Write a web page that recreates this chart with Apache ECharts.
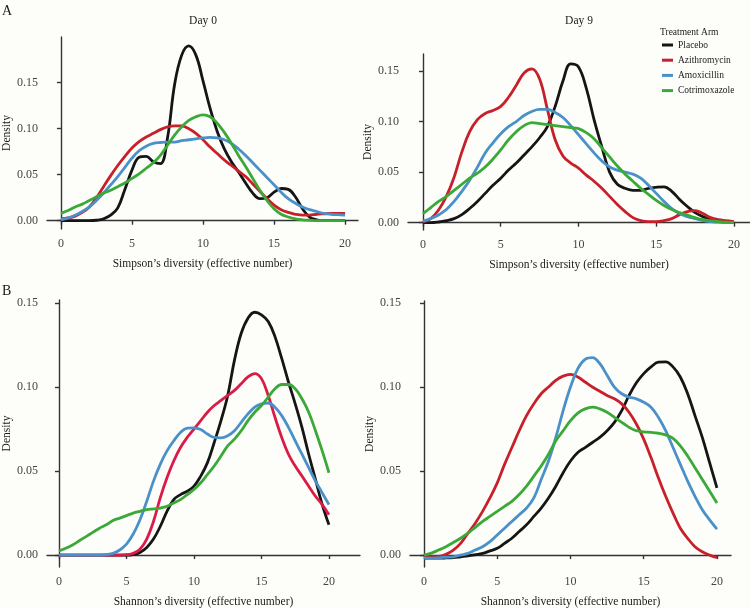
<!DOCTYPE html>
<html>
<head>
<meta charset="utf-8">
<script src="https://cdn.jsdelivr.net/npm/echarts@6/dist/echarts.min.js"></script>
<style>
html,body{margin:0;padding:0;background:#fdfdfa;}
#chart{width:750px;height:609px;}
</style>
</head>
<body>
<div id="chart"></div>
<script>
// ---- data ----
const seriesNames = ['Placebo', 'Azithromycin', 'Amoxicillin', 'Cotrimoxazole'];
const xTicks = [0, 5, 10, 15, 20];
const yTicks = [0, 0.05, 0.10, 0.15];
const panelTitles = ['Day 0', 'Day 9'];
const xNames = ['Simpson\u2019s diversity (effective number)', 'Simpson\u2019s diversity (effective number)',
                'Shannon\u2019s diversity (effective number)', 'Shannon\u2019s diversity (effective number)'];
const xs = [0,0.5,1,1.5,2,2.5,3,3.5,4,4.5,5,5.5,6,6.5,7,7.5,8,8.5,9,9.5,10,10.5,11,11.5,12,12.5,13,13.5,14,14.5,15,15.5,16,16.5,17,17.5,18,18.5,19,19.5,20];

// Panel A, Day 0 (Simpson)
const simpsonDay0Placebo = [0,0,0,0,0,0.0005,0.002,0.006,0.014,0.034,0.055,0.069,0.070,0.064,0.062,0.090,0.148,0.180,0.190,0.180,0.152,0.122,0.097,0.078,0.064,0.053,0.041,0.030,0.024,0.025,0.031,0.035,0.034,0.026,0.013,0.004,0.001,0,0,0,0];
const simpsonDay0Azithro = [0.002,0.003,0.005,0.009,0.015,0.025,0.037,0.049,0.060,0.070,0.079,0.086,0.091,0.095,0.099,0.102,0.103,0.103,0.100,0.095,0.088,0.080,0.073,0.066,0.060,0.054,0.048,0.040,0.032,0.024,0.017,0.012,0.009,0.007,0.006,0.006,0.007,0.0075,0.008,0.008,0.008];
const simpsonDay0Amox = [0.001,0.003,0.006,0.010,0.015,0.022,0.030,0.039,0.048,0.058,0.068,0.076,0.081,0.084,0.085,0.0855,0.0855,0.087,0.088,0.089,0.090,0.0905,0.090,0.088,0.084,0.078,0.071,0.063,0.055,0.047,0.039,0.031,0.024,0.019,0.015,0.012,0.010,0.008,0.007,0.0065,0.006];
const simpsonDay0Cotri = [0.008,0.011,0.015,0.018,0.022,0.026,0.030,0.033,0.037,0.041,0.046,0.051,0.057,0.063,0.071,0.082,0.093,0.102,0.109,0.113,0.115,0.113,0.106,0.096,0.084,0.071,0.059,0.046,0.033,0.022,0.013,0.007,0.004,0.002,0.001,0.0005,0,0,0,0,0];

// Panel A, Day 9 (Simpson)
const simpsonDay9Placebo = [0,0,0.0007,0.002,0.004,0.008,0.014,0.021,0.029,0.037,0.044,0.052,0.059,0.067,0.075,0.084,0.095,0.115,0.140,0.157,0.154,0.133,0.102,0.075,0.050,0.038,0.034,0.032,0.032,0.034,0.035,0.0355,0.031,0.023,0.016,0.010,0.006,0.003,0.002,0.001,0];
const simpsonDay9Azithro = [0.0007,0.004,0.0125,0.026,0.045,0.070,0.090,0.102,0.108,0.111,0.115,0.124,0.136,0.148,0.152,0.142,0.112,0.082,0.066,0.059,0.054,0.047,0.041,0.034,0.026,0.018,0.011,0.005,0.002,0.001,0.001,0.002,0.004,0.008,0.011,0.012,0.009,0.005,0.003,0.002,0.001];
const simpsonDay9Amox = [0.0016,0.004,0.0076,0.013,0.021,0.031,0.042,0.055,0.069,0.079,0.088,0.095,0.100,0.106,0.110,0.112,0.112,0.109,0.104,0.096,0.087,0.078,0.069,0.061,0.055,0.052,0.050,0.048,0.044,0.037,0.029,0.021,0.014,0.009,0.006,0.004,0.002,0.001,0.0005,0,0];
const simpsonDay9Cotri = [0.009,0.015,0.021,0.026,0.032,0.038,0.044,0.049,0.055,0.063,0.072,0.082,0.090,0.096,0.099,0.098,0.097,0.096,0.095,0.094,0.093,0.089,0.083,0.074,0.065,0.056,0.048,0.041,0.034,0.028,0.022,0.017,0.013,0.010,0.0075,0.005,0.003,0.002,0.001,0.0005,0];

// Panel B, Day 0 (Shannon)
const shannonDay0Placebo = [0,0,0,0,0,0,0,0,0,0,0,0.0003,0.0015,0.0045,0.0095,0.017,0.026,0.033,0.036,0.038,0.041,0.047,0.055,0.067,0.080,0.095,0.116,0.132,0.141,0.1445,0.143,0.139,0.130,0.117,0.103,0.090,0.076,0.060,0.045,0.030,0.018];
const shannonDay0Azithro = [0,0,0,0,0,0,0,0,0,0,0.0002,0.001,0.0035,0.0095,0.020,0.034,0.046,0.056,0.064,0.070,0.075,0.080,0.085,0.089,0.092,0.095,0.098,0.102,0.106,0.108,0.105,0.095,0.082,0.070,0.060,0.053,0.047,0.041,0.035,0.030,0.024];
const shannonDay0Amox = [0,0,0,0,0,0,0,0.0003,0.001,0.003,0.0065,0.0125,0.021,0.032,0.044,0.054,0.062,0.068,0.073,0.0755,0.0757,0.0747,0.072,0.070,0.0698,0.071,0.074,0.079,0.084,0.088,0.090,0.0905,0.088,0.083,0.076,0.068,0.060,0.052,0.044,0.037,0.030];
const shannonDay0Cotri = [0.0025,0.004,0.006,0.0085,0.011,0.0135,0.016,0.018,0.0205,0.022,0.0235,0.025,0.026,0.027,0.0275,0.028,0.029,0.031,0.033,0.036,0.039,0.043,0.048,0.053,0.059,0.065,0.069,0.074,0.080,0.085,0.089,0.094,0.099,0.1015,0.1015,0.099,0.093,0.085,0.074,0.062,0.049];

// Panel B, Day 9 (Shannon)
const shannonDay9Placebo = [-0.0018,-0.0018,-0.0018,-0.0017,-0.0015,-0.001,-0.0005,0.0002,0.001,0.0025,0.004,0.007,0.010,0.014,0.018,0.023,0.028,0.034,0.041,0.049,0.056,0.061,0.064,0.067,0.070,0.074,0.079,0.086,0.095,0.1025,0.108,0.112,0.1148,0.115,0.112,0.106,0.096,0.083,0.070,0.055,0.040];
const shannonDay9Azithro = [-0.001,-0.001,-0.0008,0.0005,0.003,0.007,0.013,0.019,0.026,0.034,0.043,0.054,0.064,0.074,0.083,0.090,0.096,0.100,0.104,0.1065,0.1075,0.106,0.103,0.100,0.0975,0.095,0.093,0.090,0.085,0.078,0.069,0.058,0.046,0.035,0.025,0.016,0.010,0.005,0.002,0,-0.0015];
const shannonDay9Amox = [-0.0018,-0.0018,-0.0016,-0.0013,-0.001,0,0.001,0.003,0.005,0.008,0.012,0.016,0.020,0.024,0.028,0.034,0.045,0.056,0.070,0.086,0.100,0.111,0.1165,0.1175,0.114,0.107,0.100,0.096,0.094,0.093,0.091,0.088,0.082,0.074,0.064,0.054,0.044,0.035,0.027,0.021,0.0155];
const shannonDay9Cotri = [0,0.0012,0.003,0.005,0.0075,0.010,0.013,0.0165,0.020,0.023,0.026,0.029,0.032,0.036,0.041,0.047,0.053,0.060,0.068,0.074,0.080,0.0845,0.087,0.088,0.087,0.085,0.082,0.079,0.076,0.074,0.0733,0.073,0.0725,0.0715,0.0695,0.065,0.059,0.052,0.045,0.038,0.031];

// ---- styling / layout ----
const FONT = '"Liberation Serif", "DejaVu Serif", serif';
const colorsTop = ['#151515', '#c8202a', '#4a90c9', '#3aa937'];
const colorsB0 = ['#151515', '#db1b47', '#4a90c9', '#3aa937'];
const colorsB9 = ['#151515', '#c8202a', '#4a90c9', '#3aa937'];

const panels = [
  { grid: {left: 46, top: 37, width: 312, height: 192}, xMin: -0.982, xMax: 20.91, yMin: -0.00902, yMax: 0.1997,
    data: [simpsonDay0Placebo, simpsonDay0Azithro, simpsonDay0Amox, simpsonDay0Cotri], colors: colorsTop },
  { grid: {left: 408, top: 54, width: 342, height: 176}, xMin: -0.965, xMax: 21.03, yMin: -0.00722, yMax: 0.1668,
    data: [simpsonDay9Placebo, simpsonDay9Azithro, simpsonDay9Amox, simpsonDay9Cotri], colors: colorsTop },
  { grid: {left: 47, top: 300, width: 313, height: 268}, xMin: -0.889, xMax: 22.30, yMin: -0.00711, yMax: 0.1518,
    data: [shannonDay0Placebo, shannonDay0Azithro, shannonDay0Amox, shannonDay0Cotri], colors: colorsB0 },
  { grid: {left: 410, top: 301, width: 321, height: 268}, xMin: -0.956, xMax: 20.96, yMin: -0.00709, yMax: 0.1512,
    data: [shannonDay9Placebo, shannonDay9Azithro, shannonDay9Amox, shannonDay9Cotri], colors: colorsB9 }
];

const axisLineStyle = { color: '#333333', width: 1.4 };
const grids = [], xAxes = [], yAxes = [], series = [];
panels.forEach((p, i) => {
  grids.push(Object.assign({containLabel: false}, p.grid));
  xAxes.push({
    type: 'value', gridIndex: i, min: p.xMin, max: p.xMax,
    name: xNames[i], nameLocation: 'middle', nameGap: 29,
    nameTextStyle: { fontFamily: FONT, fontSize: 11.5, color: '#1a1a1a' },
    axisLine: { show: true, lineStyle: axisLineStyle },
    axisTick: { show: true, length: 4, lineStyle: axisLineStyle, customValues: xTicks },
    axisLabel: { fontFamily: FONT, fontSize: 12, color: '#444444', margin: 9, customValues: xTicks,
                 formatter: v => String(v) },
    splitLine: { show: false }
  });
  yAxes.push({
    type: 'value', gridIndex: i, min: p.yMin, max: p.yMax,
    name: 'Density', nameLocation: 'middle', nameGap: 34, nameRotate: 90,
    nameTextStyle: { fontFamily: FONT, fontSize: 11.5, color: '#1a1a1a' },
    axisLine: { show: true, lineStyle: axisLineStyle },
    axisTick: { show: true, length: 4, lineStyle: axisLineStyle, customValues: yTicks },
    axisLabel: { fontFamily: FONT, fontSize: 12, color: '#444444', margin: 9, customValues: yTicks,
                 formatter: v => v.toFixed(2) },
    splitLine: { show: false }
  });
  p.data.forEach((ys, k) => {
    series.push({
      type: 'line', name: seriesNames[k], xAxisIndex: i, yAxisIndex: i,
      data: xs.map((x, j) => [x, ys[j]]),
      smooth: 0.4, showSymbol: false, symbol: 'none',
      lineStyle: { color: p.colors[k], width: 2.8 },
      itemStyle: { color: p.colors[k] },
      z: 2 + k
    });
  });
});

const chart = echarts.init(document.getElementById('chart'), null, {renderer: 'canvas'});
chart.setOption({
  animation: false,
  backgroundColor: '#fdfdfa',
  grid: grids, xAxis: xAxes, yAxis: yAxes, series: series,
  legend: {
    data: seriesNames, orient: 'vertical', left: 662, top: 40, padding: 0,
    icon: 'rect', itemWidth: 11, itemHeight: 3, itemGap: 5.2,
    textStyle: { fontFamily: FONT, fontSize: 9.5, color: '#1a1a1a', lineHeight: 10 },
    selectedMode: false
  },
  graphic: [
    { type: 'text', left: 2, top: 4, style: { text: 'A', font: '14px ' + FONT, fill: '#1a1a1a' } },
    { type: 'text', left: 2, top: 284, style: { text: 'B', font: '14px ' + FONT, fill: '#1a1a1a' } },
    { type: 'text', x: 203, y: 21, style: { text: panelTitles[0], font: '11.5px ' + FONT, fill: '#1a1a1a', align: 'center', verticalAlign: 'middle' } },
    { type: 'text', x: 579, y: 21, style: { text: panelTitles[1], font: '11.5px ' + FONT, fill: '#1a1a1a', align: 'center', verticalAlign: 'middle' } },
    { type: 'text', x: 660, y: 32, style: { text: 'Treatment Arm', font: '9.5px ' + FONT, fill: '#1a1a1a', verticalAlign: 'middle' } }
  ]
});
</script>
</body>
</html>
